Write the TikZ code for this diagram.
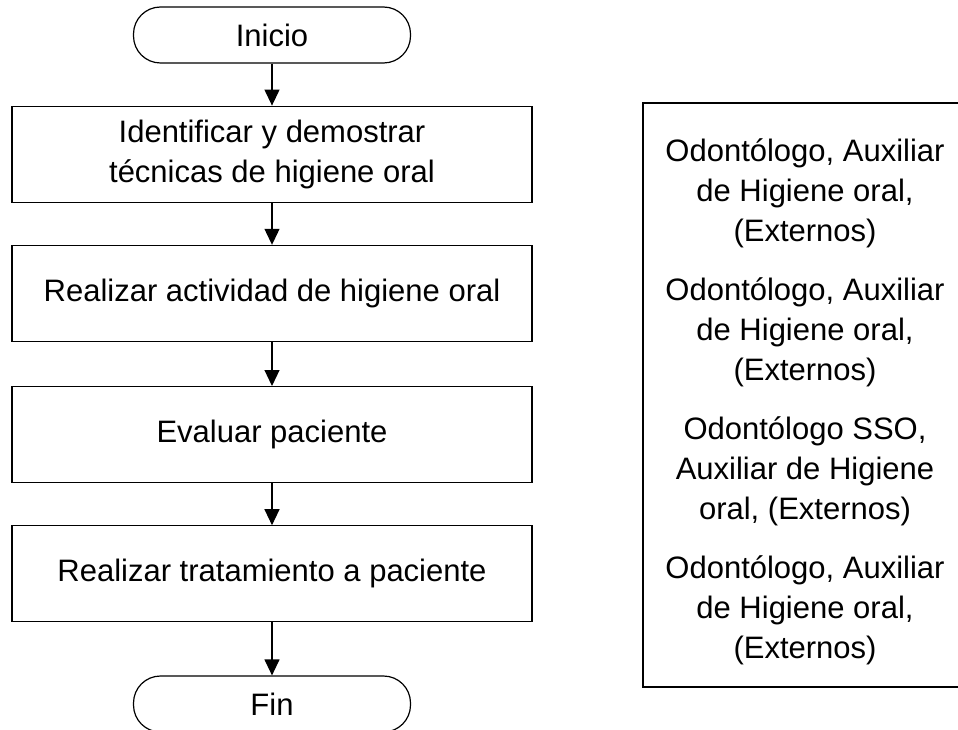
\documentclass[tikz,border=0pt]{standalone}
\usepackage{fontspec}
\setmainfont{Liberation Sans}
\usetikzlibrary{positioning,arrows.meta}
\tikzset{
  paso/.style={draw,line width=1.2pt,minimum width=520pt,minimum height=96pt,align=center,inner sep=0pt},
  terminal/.style={draw,line width=1.2pt,rounded corners=27pt,minimum width=277pt,minimum height=56pt,inner sep=0pt},
  flecha/.style={line width=1.2pt,-{Triangle[length=16pt,width=15pt]}},
}
\begin{document}
\begin{tikzpicture}[x=1pt,y=-1pt,font={\fontsize{31}{40}\selectfont}]
  \useasboundingbox (0,0) rectangle (958,730);
  % flujo principal
  \node[terminal] (inicio) at (272,35) {Inicio};
  \node[paso,below=42pt of inicio] (identificar) {Identificar y demostrar\\técnicas de higiene oral};
  \node[paso,below=42pt of identificar] (actividad) {Realizar actividad de higiene oral};
  \node[paso,below=44pt of actividad] (evaluar) {Evaluar paciente};
  \node[paso,below=42pt of evaluar] (tratamiento) {Realizar tratamiento a paciente};
  \node[terminal,below=53pt of tratamiento] (fin) {Fin};
  \draw[flecha] (inicio) -- (identificar);
  \draw[flecha] (identificar) -- (actividad);
  \draw[flecha] (actividad) -- (evaluar);
  \draw[flecha] (evaluar) -- (tratamiento);
  \draw[flecha] (tratamiento) -- (fin);
  % responsables
  \node[draw,line width=1.2pt,minimum width=326pt,minimum height=584pt] (responsables) at (806,395) {};
  \node[align=center] (resp1) at (805,193) {Odontólogo, Auxiliar\\de Higiene oral,\\(Externos)};
  \node[align=center] (resp2) at (805,332) {Odontólogo, Auxiliar\\de Higiene oral,\\(Externos)};
  \node[align=center] (resp3) at (805,471) {Odontólogo SSO,\\Auxiliar de Higiene\\oral, (Externos)};
  \node[align=center] (resp4) at (805,610) {Odontólogo, Auxiliar\\de Higiene oral,\\(Externos)};
\end{tikzpicture}
\end{document}
